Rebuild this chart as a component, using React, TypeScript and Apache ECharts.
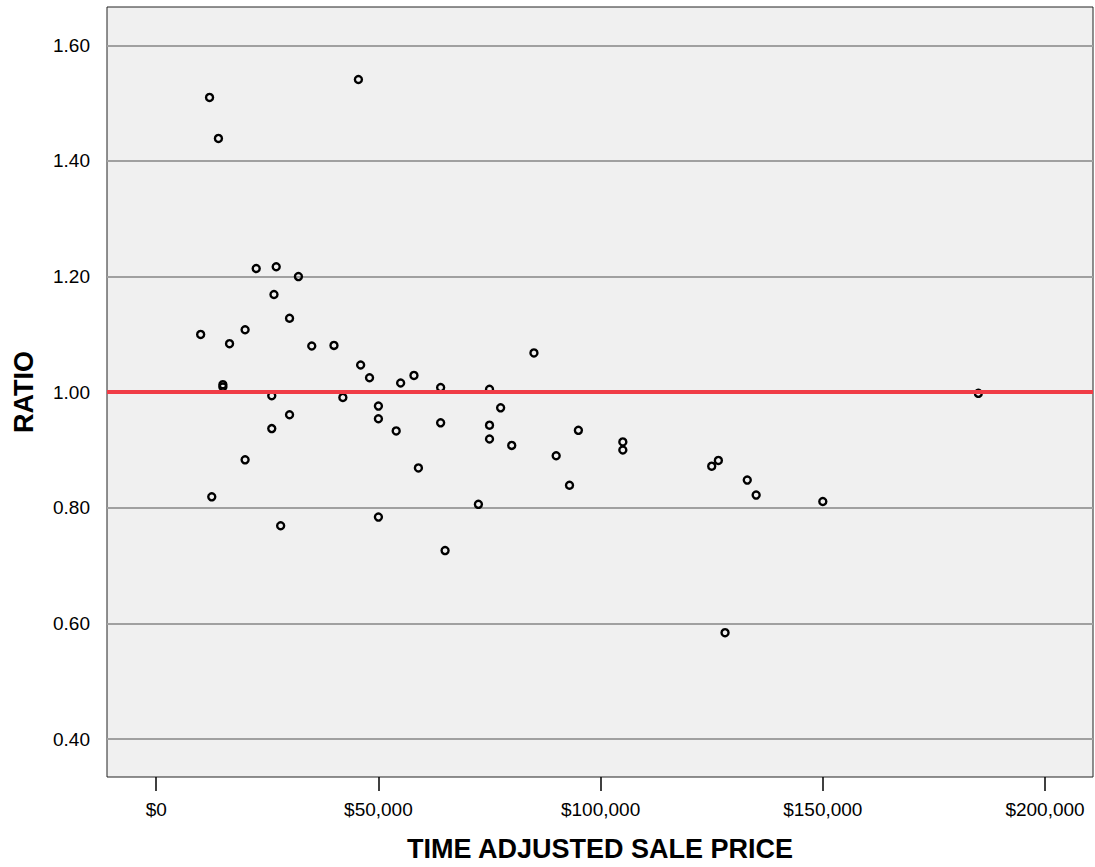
import React, { useEffect, useRef } from "react";
import * as echarts from "echarts";

// Time adjusted sale price ($) and sales ratio for each sale
const prices = [
  12000, 14000, 45500, 22500, 27000, 32000, 26500, 10000, 16500, 20000,
  30000, 35000, 40000, 46000, 48000, 55000, 58000, 64000, 15000, 15000,
  26000, 42000, 50000, 50000, 30000, 26000, 54000, 64000, 20000, 59000,
  12500, 50000, 28000, 65000, 75000, 85000, 77500, 75000, 75000, 80000,
  95000, 90000, 105000, 105000, 125000, 126500, 133000, 135000, 72500, 93000,
  185000, 150000, 128000,
];
const ratios = [
  1.51, 1.439, 1.541, 1.214, 1.217, 1.2, 1.169, 1.1, 1.084, 1.108,
  1.128, 1.08, 1.081, 1.047, 1.025, 1.016, 1.029, 1.008, 1.013, 1.009,
  0.994, 0.991, 0.976, 0.954, 0.961, 0.937, 0.933, 0.947, 0.883, 0.869,
  0.819, 0.784, 0.769, 0.726, 1.005, 1.068, 0.973, 0.943, 0.919, 0.908,
  0.934, 0.89, 0.914, 0.9, 0.872, 0.882, 0.848, 0.822, 0.806, 0.839,
  0.998, 0.811, 0.584,
];

const xTicks = [0, 50000, 100000, 150000, 200000];
const yTicks = [0.4, 0.6, 0.8, 1.0, 1.2, 1.4, 1.6];
const referenceRatio = 1.0;

const X_MIN = -11076;
const X_MAX = 210800;
const Y_MIN = 0.3343;
const Y_MAX = 1.6664;

const fmtMoney = (v: number) =>
  "$" + Math.round(v).toString().replace(/\B(?=(\d{3})+(?!\d))/g, ",");

export default function App() {
  const ref = useRef<HTMLDivElement>(null);

  useEffect(() => {
    if (!ref.current) return;
    const chart = echarts.init(ref.current, undefined, { renderer: "svg" });
    const font = "Arial, 'Liberation Sans', Helvetica, sans-serif";
    chart.setOption({
      animation: false,
      backgroundColor: "#ffffff",
      textStyle: { fontFamily: font },
      grid: {
        left: 107,
        right: 2,
        top: 7,
        bottom: 86,
        show: true,
        backgroundColor: "#F0F0F0",
        borderColor: "#222222",
        borderWidth: 1,
      },
      xAxis: {
        type: "value",
        min: X_MIN,
        max: X_MAX,
        name: "TIME ADJUSTED SALE PRICE",
        nameLocation: "middle",
        nameGap: 58,
        nameTextStyle: {
          color: "#000",
          fontSize: 27,
          fontWeight: "bold",
          fontFamily: font,
        },
        axisLine: { show: false },
        axisTick: {
          show: true,
          length: 14,
          inside: false,
          customValues: xTicks,
          lineStyle: { color: "#000", width: 1.5 },
        },
        axisLabel: {
          customValues: xTicks,
          formatter: (v: number) => fmtMoney(v),
          color: "#000",
          fontSize: 19,
          margin: 23,
          fontFamily: font,
        },
        splitLine: { show: false },
      },
      yAxis: {
        type: "value",
        min: Y_MIN,
        max: Y_MAX,
        name: "RATIO",
        nameLocation: "middle",
        nameGap: 70,
        nameRotate: 90,
        nameTextStyle: {
          color: "#000",
          fontSize: 27,
          fontWeight: "bold",
          fontFamily: font,
        },
        axisLine: { show: false },
        axisTick: {
          show: true,
          length: 14,
          customValues: yTicks,
          lineStyle: { color: "#000", width: 1.5 },
        },
        axisLabel: {
          customValues: yTicks,
          formatter: (v: number) => v.toFixed(2),
          color: "#000",
          fontSize: 19,
          margin: 17,
          fontFamily: font,
        },
        splitLine: { show: false },
      },
      series: [
        {
          type: "scatter",
          name: "grid",
          data: [],
          silent: true,
          markLine: {
            silent: true,
            z: 1,
            symbol: ["none", "none"],
            label: { show: false },
            lineStyle: { color: "#A0A0A0", width: 2, type: "solid" },
            data: yTicks.map((v) => ({ yAxis: v })),
          },
        },
        {
          type: "scatter",
          name: "sales",
          z: 3,
          symbol: "circle",
          symbolSize: 7,
          itemStyle: {
            color: "rgba(0,0,0,0)",
            borderColor: "#000",
            borderWidth: 2.4,
            opacity: 1,
          },
          data: prices.map((p, i) => [p, ratios[i]]),
        },
        {
          type: "scatter",
          name: "reference",
          data: [],
          silent: true,
          markLine: {
            silent: true,
            z: 6,
            symbol: ["none", "none"],
            label: { show: false },
            lineStyle: { color: "#F03C46", width: 4, type: "solid" },
            data: [{ yAxis: referenceRatio }],
          },
        },
      ],
    });
    return () => chart.dispose();
  }, []);

  return (
    <div
      ref={ref}
      style={{ position: "fixed", left: 0, top: 0, width: 1095, height: 867 }}
    />
  );
}
